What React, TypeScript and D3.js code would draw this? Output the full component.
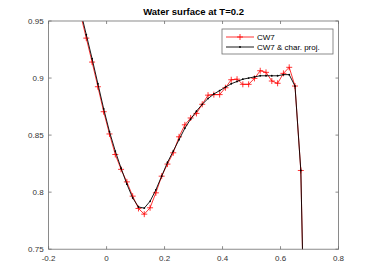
import React from "react";
import * as d3 from "d3";

const xs = [-0.09, -0.07, -0.05, -0.03, -0.01, 0.01, 0.03, 0.05, 0.07, 0.09, 0.11, 0.13, 0.15, 0.17, 0.19, 0.21, 0.23, 0.25, 0.27, 0.29, 0.31, 0.33, 0.35, 0.37, 0.39, 0.41, 0.43, 0.45, 0.47, 0.49, 0.51, 0.53, 0.55, 0.57, 0.59, 0.61, 0.63, 0.65, 0.67, 0.69];
const cw7 = [0.956, 0.935, 0.914, 0.8924, 0.8705, 0.851, 0.833, 0.82, 0.809, 0.7965, 0.7857, 0.7807, 0.7863, 0.7994, 0.814, 0.8246, 0.8345, 0.8485, 0.859, 0.865, 0.869, 0.877, 0.885, 0.8855, 0.8855, 0.8915, 0.8985, 0.899, 0.8945, 0.8945, 0.8997, 0.9064, 0.905, 0.8974, 0.8954, 0.9041, 0.9094, 0.893, 0.819, 0.58];
const cw7char = [0.959, 0.938, 0.917, 0.895, 0.873, 0.853, 0.836, 0.821, 0.807, 0.795, 0.787, 0.786, 0.792, 0.802, 0.814, 0.826, 0.836, 0.846, 0.856, 0.864, 0.871, 0.877, 0.882, 0.886, 0.889, 0.892, 0.895, 0.897, 0.899, 0.9, 0.901, 0.902, 0.902, 0.902, 0.902, 0.903, 0.903, 0.893, 0.819, 0.58];
const xTicks = [-0.2, 0, 0.2, 0.4, 0.6, 0.8];
const yTicks = [0.75, 0.8, 0.85, 0.9, 0.95];
const title = "Water surface at T=0.2";
const legendLabels = ["CW7", "CW7 & char. proj."];

const W = 374, H = 280;
const L = 48.6, R = 338.5, T = 21, B = 249.2;
const FONT = "'Liberation Sans', Arial, Helvetica, sans-serif";
const AX = "#6e6e6e";

export default function App() {
  const x = d3.scaleLinear().domain([-0.2, 0.8]).range([L, R]);
  const y = d3.scaleLinear().domain([0.75, 0.95]).range([B, T]);
  const line = d3.line<number>().x((_, i) => x(xs[i])).y((d) => y(d));
  const redPath = line(cw7) || "";
  const blackPath = line(cw7char) || "";
  const fmt = (v: number) => (v === 0 ? "0" : String(+v.toFixed(2)));
  const plus = (cx: number, cy: number, k: string, s = 3) => (
    <path key={k} d={`M${cx - s},${cy}H${cx + s}M${cx},${cy - s}V${cy + s}`} stroke="#ff0000" strokeWidth={0.8} fill="none" />
  );
  return (
    <svg width={W} height={H} style={{ position: "absolute", left: 0, top: 0, background: "#fff" }}>
      <rect x={0} y={0} width={W} height={H} fill="#fff" />
      <defs>
        <clipPath id="plotclip">
          <rect x={L} y={T} width={R - L} height={B - T} />
        </clipPath>
      </defs>
      <g clipPath="url(#plotclip)">
        <path d={redPath} fill="none" stroke="#ff0000" strokeWidth={0.8} />
        {xs.map((xv, i) => plus(x(xv), y(cw7[i]), "p" + i))}
        <path d={blackPath} fill="none" stroke="#000" strokeWidth={0.9} />
        {xs.map((xv, i) => (
          <circle key={"d" + i} cx={x(xv)} cy={y(cw7char[i])} r={0.9} fill="#000" />
        ))}
      </g>
      {/* box */}
      <rect x={L} y={T} width={R - L} height={B - T} fill="none" stroke={AX} strokeWidth={0.8} />
      {xTicks.map((t) => (
        <g key={"xt" + t}>
          <line x1={x(t)} x2={x(t)} y1={B} y2={B - 3} stroke={AX} strokeWidth={0.8} />
          <line x1={x(t)} x2={x(t)} y1={T} y2={T + 3} stroke={AX} strokeWidth={0.8} />
          <text x={x(t)} y={261} fontSize={8} fontFamily={FONT} fill="#333" textAnchor="middle">{fmt(t)}</text>
        </g>
      ))}
      {yTicks.map((t) => (
        <g key={"yt" + t}>
          <line x1={L} x2={L + 3} y1={y(t)} y2={y(t)} stroke={AX} strokeWidth={0.8} />
          <line x1={R} x2={R - 3} y1={y(t)} y2={y(t)} stroke={AX} strokeWidth={0.8} />
          <text x={L - 5} y={y(t) + 3} fontSize={8} fontFamily={FONT} fill="#333" textAnchor="end">{fmt(t)}</text>
        </g>
      ))}
      <text x={(L + R) / 2} y={15} fontSize={9.5} fontWeight="bold" fontFamily={FONT} fill="#000" textAnchor="middle">{title}</text>
      {/* legend */}
      <rect x={222} y={29} width={111} height={25} fill="#fff" stroke={AX} strokeWidth={0.8} />
      <line x1={226} x2={254} y1={37} y2={37} stroke="#ff0000" strokeWidth={0.8} />
      {plus(240, 37, "lp")}
      <text x={257} y={40} fontSize={8} fontFamily={FONT} fill="#000">{legendLabels[0]}</text>
      <line x1={226} x2={254} y1={47} y2={47} stroke="#000" strokeWidth={0.9} />
      <circle cx={240} cy={47} r={0.9} fill="#000" />
      <text x={257} y={50} fontSize={8} fontFamily={FONT} fill="#000">{legendLabels[1]}</text>
    </svg>
  );
}
